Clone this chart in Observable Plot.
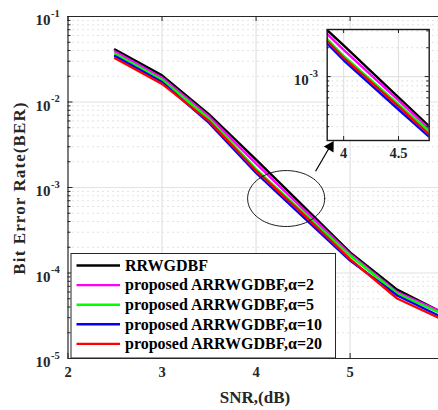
<!DOCTYPE html>
<html>
<head>
<meta charset="utf-8">
<script src="https://cdn.jsdelivr.net/npm/d3@7"></script>
<script src="https://cdn.jsdelivr.net/npm/@observablehq/plot@0.6"></script>
<style>
  html, body { margin: 0; padding: 0; background: #fff; }
  #chart { position: relative; width: 438px; height: 410px; }
  #chart svg { position: absolute; left: 0; top: 0; overflow: visible; }
  #inset { pointer-events: none; }
</style>
</head>
<body>
<div id="chart"></div>
<script>
// BER vs SNR for the decoders
const snr = [2.5, 3, 3.5, 4, 4.5, 5, 5.5, 6];
const berRRWGDBF = [0.0411, 0.0205, 0.00715, 0.00212, 6.08e-4, 1.74e-4, 6.4e-5, 3.37e-5];
const berAlpha2  = [0.0389, 0.0192, 0.00676, 0.00190, 5.64e-4, 1.67e-4, 5.96e-5, 3.40e-5];
const berAlpha5  = [0.0366, 0.0182, 0.00637, 0.00164, 5.13e-4, 1.60e-4, 5.75e-5, 3.25e-5];
const berAlpha10 = [0.0344, 0.0171, 0.00571, 0.00148, 4.53e-4, 1.40e-4, 5.45e-5, 2.96e-5];
const berAlpha20 = [0.0325, 0.0163, 0.00597, 0.00157, 4.88e-4, 1.45e-4, 5.03e-5, 2.79e-5];

const seriesNames = [
  "RRWGDBF",
  "proposed ARRWGDBF,α=2",
  "proposed ARRWGDBF,α=5",
  "proposed ARRWGDBF,α=10",
  "proposed ARRWGDBF,α=20"
];
const seriesColors = ["#000000", "#ff00ff", "#00ff00", "#0000ff", "#ff0000"];
const seriesValues = [berRRWGDBF, berAlpha2, berAlpha5, berAlpha10, berAlpha20];

const xTicks = [2, 3, 4, 5];
const yDecades = [1e-5, 1e-4, 1e-3, 1e-2, 1e-1];
const insetXTicks = [4, 4.5];
const insetYTicks = [1e-3];
const xTitle = "SNR,(dB)";
const yTitle = "Bit Error Rate(BER)";

// long-format table
const rows = [];
seriesNames.forEach((name, i) => {
  snr.forEach((s, j) => rows.push({series: name, snr: s, ber: seriesValues[i][j]}));
});

const minorY = [];
for (let e = -5; e < -1 + 1e-9; e++) for (let m = 2; m <= 9; m++) minorY.push(m * 10 ** e);
const minorInset = minorY.filter(v => v > 2.15e-4 && v < 3.1e-3);

const FONT = "'Liberation Serif', 'Times New Roman', serif";
const INK = "#262626";
const W = 438, H = 410;
const mL = 67.5, mR = 0, mT = 16, mB = 52;
const xDom = [2, 5.94], yDom = [1e-5, 1e-1];
const pxX = (W - mL - mR) / (xDom[1] - xDom[0]);
const pxDec = (H - mT - mB) / 4;

const lineMarks = (clip) => seriesNames.map((name, i) =>
  Plot.line(rows.filter(r => r.series === name), {
    x: "snr", y: "ber", stroke: seriesColors[i], strokeWidth: 2.4, clip
  })
);

// ellipse marking the zoomed region (in SNR / log-BER space)
const ell = d3.range(0, 361, 4).map(t => {
  const a = t * Math.PI / 180;
  return {x: 4.32 + 0.41 * Math.cos(a), y: 10 ** (-3.129 + 0.327 * Math.sin(a))};
});
// pointer from the ellipse to the inset
const pointer = [{x1: 4.633, y1: 1.55e-3, x2: 4.80, y2: 3.2e-3}];
const pointerHead = [{x: 4.79, y: 3.0e-3}];

const main = Plot.plot({
  width: W, height: H,
  marginLeft: mL, marginRight: mR, marginTop: mT, marginBottom: mB,
  style: {fontFamily: FONT, background: "transparent"},
  x: {domain: xDom, axis: null},
  y: {type: "log", domain: yDom, axis: null},
  marks: [
    Plot.ruleY(minorY, {stroke: "#c4c4c4", strokeDasharray: "1,4", strokeWidth: 1}),
    Plot.ruleX(xTicks.slice(1), {stroke: "#e2e2e2", strokeWidth: 1.2}),
    Plot.ruleY(yDecades.slice(1, 4), {stroke: "#e2e2e2", strokeWidth: 1.2}),
    ...lineMarks(true),
    Plot.line(ell, {x: "x", y: "y", stroke: "#000", strokeWidth: 0.9, curve: "linear"}),
    Plot.link(pointer, {x1: "x1", y1: "y1", x2: "x2", y2: "y2", stroke: "#000", strokeWidth: 1.2}),
    Plot.dot(pointerHead, {x: "x", y: "y", symbol: "triangle", r: 4.2, fill: "#000", stroke: null, rotate: 31}),
    // frame (right side lies beyond the view)
    Plot.ruleY([yDom[1]], {stroke: INK, strokeWidth: 1.2}),
    Plot.ruleY([yDom[0]], {stroke: INK, strokeWidth: 1.2}),
    Plot.ruleX([xDom[0]], {stroke: INK, strokeWidth: 1.2}),
    // inward ticks
    Plot.ruleY(yDecades, {x1: xDom[0], x2: xDom[0] + 5 / pxX, stroke: INK}),
    Plot.ruleY(minorY, {x1: xDom[0], x2: xDom[0] + 3 / pxX, stroke: INK}),
    Plot.ruleX(xTicks, {y1: yDom[0], y2: yDom[0] * 10 ** (5 / pxDec), stroke: INK}),
    Plot.ruleX(xTicks, {y1: yDom[1], y2: yDom[1] / 10 ** (5 / pxDec), stroke: INK}),
    // tick labels
    Plot.text(xTicks, {x: d => d, frameAnchor: "bottom", dy: 18.5, text: d => String(d),
      fontSize: 14.5, fontWeight: "bold", fill: INK}),
    Plot.text(yDecades, {y: d => d, frameAnchor: "left", dx: -17.5, dy: 4, text: () => "10",
      textAnchor: "end", fontSize: 15, fontWeight: "bold", fill: INK}),
    Plot.text(yDecades, {y: d => d, frameAnchor: "left", dx: -17, dy: -3,
      text: d => String(Math.round(Math.log10(d))), textAnchor: "start",
      fontSize: 10.5, fontWeight: "bold", fill: INK})
  ]
});
document.getElementById("chart").appendChild(main);

const svg = d3.select(main);

// axis titles
svg.append("text")
  .attr("x", 255).attr("y", 397.5).attr("dy", "0.35em")
  .attr("text-anchor", "middle").attr("font-family", FONT).attr("font-weight", "bold")
  .attr("font-size", 17).attr("fill", INK).text(xTitle);
svg.append("text")
  .attr("transform", "translate(19,188) rotate(-90)").attr("dy", "0.35em")
  .attr("text-anchor", "middle").attr("font-family", FONT).attr("font-weight", "bold")
  .attr("font-size", 17).attr("letter-spacing", 1.1).attr("fill", INK).text(yTitle);

// legend inside the plot area
const lg = svg.append("g");
const lgX = 71, lgY = 253.5, lgW = 264.5, lgH = 104.5;
lg.append("rect").attr("x", lgX).attr("y", lgY).attr("width", lgW).attr("height", lgH)
  .attr("fill", "#fff").attr("stroke", INK).attr("stroke-width", 1);
seriesNames.forEach((name, i) => {
  const cy = 265.5 + i * 19.6;
  lg.append("line").attr("x1", 76.5).attr("x2", 120).attr("y1", cy).attr("y2", cy)
    .attr("stroke", seriesColors[i]).attr("stroke-width", 2.4);
  lg.append("text").attr("x", 125).attr("y", cy).attr("dy", "0.33em")
    .attr("text-anchor", "start")
    .attr("font-family", FONT).attr("font-weight", "bold").attr("font-size", 16)
    .attr("fill", "#000").text(name);
});

// zoomed inset
const iL = 326.7, iR = 428.7, iT = 29, iB = 140;
const iXDom = [3.85, 4.78], iYDom = [2.15e-4, 3.1e-3];
const ipxX = (iR - iL) / (iXDom[1] - iXDom[0]);
const ipxDec = (iB - iT) / Math.log10(iYDom[1] / iYDom[0]);
const inset = Plot.plot({
  width: W, height: H,
  marginLeft: iL, marginRight: W - iR, marginTop: iT, marginBottom: H - iB,
  style: {fontFamily: FONT, background: "transparent"},
  x: {domain: iXDom, axis: null},
  y: {type: "log", domain: iYDom, axis: null},
  marks: [
    Plot.frame({fill: "#fff", stroke: null}),
    Plot.ruleY(minorInset, {stroke: "#c4c4c4", strokeDasharray: "1,4"}),
    Plot.ruleX(insetXTicks, {stroke: "#e2e2e2", strokeWidth: 1.2}),
    Plot.ruleY(insetYTicks, {stroke: "#e2e2e2", strokeWidth: 1.2}),
    ...lineMarks(true),
    Plot.ruleY(insetYTicks, {x1: iXDom[0], x2: iXDom[0] + 4 / ipxX, stroke: INK}),
    Plot.ruleY(minorInset, {x1: iXDom[0], x2: iXDom[0] + 2.5 / ipxX, stroke: INK}),
    Plot.ruleY(insetYTicks, {x1: iXDom[1], x2: iXDom[1] - 4 / ipxX, stroke: INK}),
    Plot.ruleY(minorInset, {x1: iXDom[1], x2: iXDom[1] - 2.5 / ipxX, stroke: INK}),
    Plot.ruleX(insetXTicks, {y1: iYDom[0], y2: iYDom[0] * 10 ** (4 / ipxDec), stroke: INK}),
    Plot.ruleX(insetXTicks, {y1: iYDom[1], y2: iYDom[1] / 10 ** (4 / ipxDec), stroke: INK}),
    Plot.frame({stroke: "#1a1a1a", strokeWidth: 1.4}),
    Plot.text(insetXTicks, {x: d => d, frameAnchor: "bottom", dy: 17, text: d => String(d),
      fontSize: 14.5, fontWeight: "bold", fill: INK}),
    Plot.text(insetYTicks, {y: d => d, frameAnchor: "left", dx: -18.5, dy: 4, text: () => "10",
      textAnchor: "end", fontSize: 15, fontWeight: "bold", fill: INK}),
    Plot.text(insetYTicks, {y: d => d, frameAnchor: "left", dx: -18, dy: -3,
      text: d => String(Math.round(Math.log10(d))), textAnchor: "start",
      fontSize: 10.5, fontWeight: "bold", fill: INK})
  ]
});
inset.id = "inset";
document.getElementById("chart").appendChild(inset);
</script>
</body>
</html>
